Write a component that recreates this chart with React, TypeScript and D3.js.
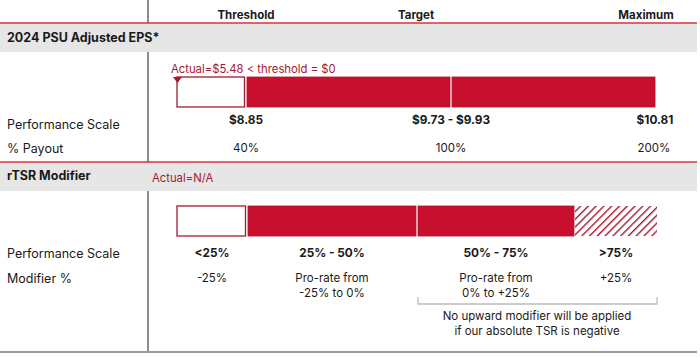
import React from "react";
import * as d3 from "d3";

const tierHeaders = ["Threshold", "Target", "Maximum"];
const epsValues = [8.85, 9.83, 10.81];
const epsLabels = ["$8.85", "$9.73 - $9.93", "$10.81"];
const payoutLabels = ["40%", "100%", "200%"];
const epsActualNote = "Actual=$5.48 < threshold = $0";
const rtsrBounds = [10, 25, 50, 75, 90];
const rtsrScaleLabels = ["<25%", "25% - 50%", "50% - 75%", ">75%"];
const rtsrModifier = [["-25%"], ["Pro-rate from", "-25% to 0%"], ["Pro-rate from", "0% to +25%"], ["+25%"]];
const rtsrKinds = ["empty", "fill", "fill", "hatch"];
const rtsrNote = ["No upward modifier will be applied", "if our absolute TSR is negative"];

const W = 700, H = 357;
const RED = "#c8102e";
const DARK = "#a3192f";
const TXT = "#1a1a1a";
const FONT = "Inter, 'Noto Sans', sans-serif";

export default function App() {
  const xEps = d3.scaleLinear().domain([epsValues[0], epsValues[2]]).range([246, 656]);
  const epsStart = 177;
  const xR = d3.scaleLinear().domain(rtsrBounds).range([177, 247, 417, 575, 657]);
  const headerX = epsValues.map((v) => xEps(v));
  const bar1Y = 77, barH = 30, bar2Y = 206;

  return (
    <svg width={W} height={H} style={{ position: "absolute", left: 0, top: 0, fontFamily: FONT }}>
      <defs>
        <pattern id="hatch" patternUnits="userSpaceOnUse" width="5.5" height="5.5" patternTransform="rotate(45)">
          <rect width="5.5" height="5.5" fill="#fff" />
          <line x1="0" y1="0" x2="0" y2="5.5" stroke={DARK} strokeWidth="2.8" />
        </pattern>
      </defs>
      <rect width={W} height={H} fill="#fff" />
      <line x1={148} x2={148} y1={0} y2={352} stroke="#666" strokeWidth={1.5} />
      {tierHeaders.map((t, i) => (
        <text key={t} x={i === 2 ? 646 : i === 1 ? 416 : headerX[i]} y={19} textAnchor="middle" fontSize={11.5} fontWeight={700} fill={TXT}>{t}</text>
      ))}
      <rect x={0} y={23} width={697} height={29} fill="#e6e6e6" />
      <line x1={0} x2={697} y1={23} y2={23} stroke="#d4343c" strokeWidth={1.6} />
      <text x={7} y={42} fontSize={12.5} fontWeight={700} fill={TXT}>2024 PSU Adjusted EPS*</text>
      <text x={171} y={73} fontSize={11.3} fill={DARK}>{epsActualNote}</text>
      <rect x={epsStart} y={bar1Y} width={headerX[0] - epsStart - 1.5} height={barH} fill="#fff" stroke={DARK} strokeWidth={1.3} />
      {[0, 1].map((i) => (
        <rect key={i} x={headerX[i] + 1} y={bar1Y} width={headerX[i + 1] - headerX[i] - 2} height={barH} fill={RED} stroke="#b0142a" strokeWidth={0.8} />
      ))}
      <path d={`M${epsStart - 4},${bar1Y} L${epsStart + 5},${bar1Y} L${epsStart + 0.5},${bar1Y + 6} Z`} fill={DARK} />
      <text x={7} y={129} fontSize={12.5} fill={TXT}>Performance Scale</text>
      {epsLabels.map((l, i) => (
        <text key={l} x={i === 2 ? 655 : headerX[i]} y={124} textAnchor="middle" fontSize={11.8} fontWeight={700} fill={TXT}>{l}</text>
      ))}
      <text x={7} y={153} fontSize={12.5} fill={TXT}>% Payout</text>
      {payoutLabels.map((l, i) => (
        <text key={l} x={i === 2 ? 654 : headerX[i]} y={152} textAnchor="middle" fontSize={11.5} fill={TXT}>{l}</text>
      ))}
      <rect x={0} y={162} width={697} height={29} fill="#e6e6e6" />
      <line x1={0} x2={697} y1={162} y2={162} stroke="#d4343c" strokeWidth={1.6} />
      <text x={7} y={180} fontSize={12.5} fontWeight={700} fill={TXT}>rTSR Modifier</text>
      <text x={152} y={182} fontSize={11.3} fill={DARK}>Actual=N/A</text>
      {rtsrKinds.map((k, i) => {
        const x0 = xR(rtsrBounds[i]) + (i === 0 ? 0 : 1);
        const x1 = xR(rtsrBounds[i + 1]) - (i === 3 ? 0 : 1);
        if (k === "empty")
          return <rect key={i} x={x0} y={bar2Y} width={x1 - x0 - 0.5} height={barH} fill="#fff" stroke={DARK} strokeWidth={1.3} />;
        if (k === "hatch")
          return <rect key={i} x={x0 - 1} y={bar2Y} width={x1 - x0 + 1} height={barH} fill="url(#hatch)" />;
        return <rect key={i} x={x0} y={bar2Y} width={x1 - x0} height={barH} fill={RED} stroke="#b0142a" strokeWidth={0.8} />;
      })}
      <text x={7} y={258} fontSize={12.5} fill={TXT}>Performance Scale</text>
      {rtsrScaleLabels.map((l, i) => (
        <text key={l} x={(xR(rtsrBounds[i]) + xR(rtsrBounds[i + 1])) / 2} y={257} textAnchor="middle" fontSize={11.8} fontWeight={700} fill={TXT}>{l}</text>
      ))}
      <text x={7} y={283} fontSize={12.5} fill={TXT}>Modifier %</text>
      {rtsrModifier.map((lines, i) => (
        <text key={i} x={(xR(rtsrBounds[i]) + xR(rtsrBounds[i + 1])) / 2} y={282} textAnchor="middle" fontSize={11.5} fill={TXT}>
          {lines.map((s, j) => (
            <tspan key={j} x={(xR(rtsrBounds[i]) + xR(rtsrBounds[i + 1])) / 2} dy={j === 0 ? 0 : 15}>{s}</tspan>
          ))}
        </text>
      ))}
      <path d={`M${xR(rtsrBounds[2]) + 1},297 V304 H${xR(rtsrBounds[4])} V297`} fill="none" stroke="#bdbdbd" strokeWidth={1.3} />
      {rtsrNote.map((s, j) => (
        <text key={j} x={(xR(rtsrBounds[2]) + xR(rtsrBounds[4])) / 2} y={320 + j * 14.5} textAnchor="middle" fontSize={11.5} fill={TXT}>{s}</text>
      ))}
      <line x1={0} x2={697} y1={352} y2={352} stroke="#9a9a9a" strokeWidth={2} />
    </svg>
  );
}
